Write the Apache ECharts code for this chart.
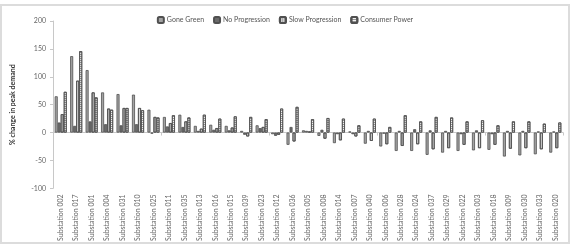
<!DOCTYPE html>
<html>
<head>
<meta charset="utf-8" />
<title>% change in peak demand</title>
<script src="https://cdn.jsdelivr.net/npm/echarts@6/dist/echarts.min.js"></script>
<style>
  body { margin: 0; background: #fff; }
  #chartmain { width: 570px; height: 244px; }
  #frame { position: absolute; left: 0; top: 4px; width: 566px; height: 236px; border: 2px solid #dcdcdc; pointer-events: none; }
</style>
</head>
<body>
<div id="chartmain"></div>
<div id="frame"></div>
<script type="text/javascript">
// substations, in the order shown
var categories = ['002','017','001','004','031','010','025','011','035','013','016',
                  '015','039','023','012','036','005','008','014','007','040','006',
                  '028','024','037','029','022','003','018','009','030','033','020']
                  .map(function (c) { return 'Substation ' + c; });

var goneGreen       = [65,137,112,72,69,68,41,28,32,12,14,12,3,13,-3,-22,4,-6,-19,2,-20,-25,-33,-33,-40,-36,-33,-32,-31,-43,-41,-39,-36];
var noProgression   = [18,12,20,15,13,15,-2,11,10,3,5,4,-4,8,-6,10,3,5,-3,-3,3,-2,3,6,4,3,-3,4,-3,3,3,2,2];
var slowProgression = [33,93,72,43,44,44,28,17,20,7,8,9,-7,10,-4,-16,2,-11,-14,-7,-15,-21,-24,-21,-30,-28,-22,-28,-22,-29,-28,-30,-28];
var consumerPower   = [73,146,63,41,44,40,27,31,27,32,25,29,28,24,43,46,24,26,25,13,25,10,31,20,28,27,20,22,13,20,20,16,18];

var yTicks = [-100, -50, 0, 50, 100, 150, 200];

var font = 'Lato, "Open Sans", sans-serif';

function barSeries(name, data, fill, decal) {
    var s = {
        name: name,
        type: 'bar',
        data: data,
        barGap: '0%',
        barCategoryGap: '22%',
        itemStyle: { color: fill, borderColor: '#505050', borderWidth: 0.8 }
    };
    if (decal) s.itemStyle.decal = decal;
    return s;
}

var myChart = echarts.init(document.getElementById('chartmain'));
var option = {
    backgroundColor: '#fff',
    animation: false,
    textStyle: { fontFamily: font },
    legend: {
        top: 11,
        left: 'center',
        itemWidth: 6,
        itemHeight: 6,
        itemGap: 9,
        textStyle: { fontSize: 7, color: '#555', fontFamily: font, padding: [0, 0, 0, -2] },
        data: ['Gone Green', 'No Progression', 'Slow Progression', 'Consumer Power']
    },
    grid: { left: 53, right: 7, top: 21, bottom: 54 },
    xAxis: [
        {   // line at zero, no labels
            type: 'category',
            data: categories,
            axisLine: { onZero: true, lineStyle: { color: '#c8c8c8', width: 1 } },
            axisTick: { show: true, length: 3, lineStyle: { color: '#c8c8c8' } },
            axisLabel: { show: false }
        },
        {   // labels along the bottom
            type: 'category',
            position: 'bottom',
            data: categories,
            axisLine: { show: false, onZero: false },
            axisTick: { show: false },
            axisLabel: {
                interval: 0,
                rotate: 90,
                margin: 6,
                fontSize: 7,
                color: '#666',
                fontFamily: font
            }
        }
    ],
    yAxis: {
        type: 'value',
        min: yTicks[0],
        max: yTicks[yTicks.length - 1],
        interval: 50,
        name: '% change in peak demand',
        nameLocation: 'middle',
        nameGap: 37,
        nameTextStyle: { fontSize: 7, fontWeight: 'bold', color: '#333', fontFamily: font },
        axisLine: { show: true, lineStyle: { color: '#c8c8c8' } },
        axisTick: { show: true, length: 3, lineStyle: { color: '#c8c8c8' } },
        axisLabel: { fontSize: 7, color: '#666', margin: 7, fontFamily: font },
        splitLine: { show: false }
    },
    series: [
        barSeries('Gone Green', goneGreen, '#a3a3a3'),
        barSeries('No Progression', noProgression, '#6a6a6a'),
        barSeries('Slow Progression', slowProgression, '#d2d2d2', {
            symbol: 'rect', dashArrayX: [1, 1], dashArrayY: [1, 0], rotation: 0, color: 'rgba(90,90,90,0.35)'
        }),
        barSeries('Consumer Power', consumerPower, '#f2f2f2', {
            symbol: 'rect', dashArrayX: [1, 0], dashArrayY: [1, 1], rotation: 0, color: 'rgba(70,70,70,0.55)'
        })
    ]
};
myChart.setOption(option);
</script>
</body>
</html>
